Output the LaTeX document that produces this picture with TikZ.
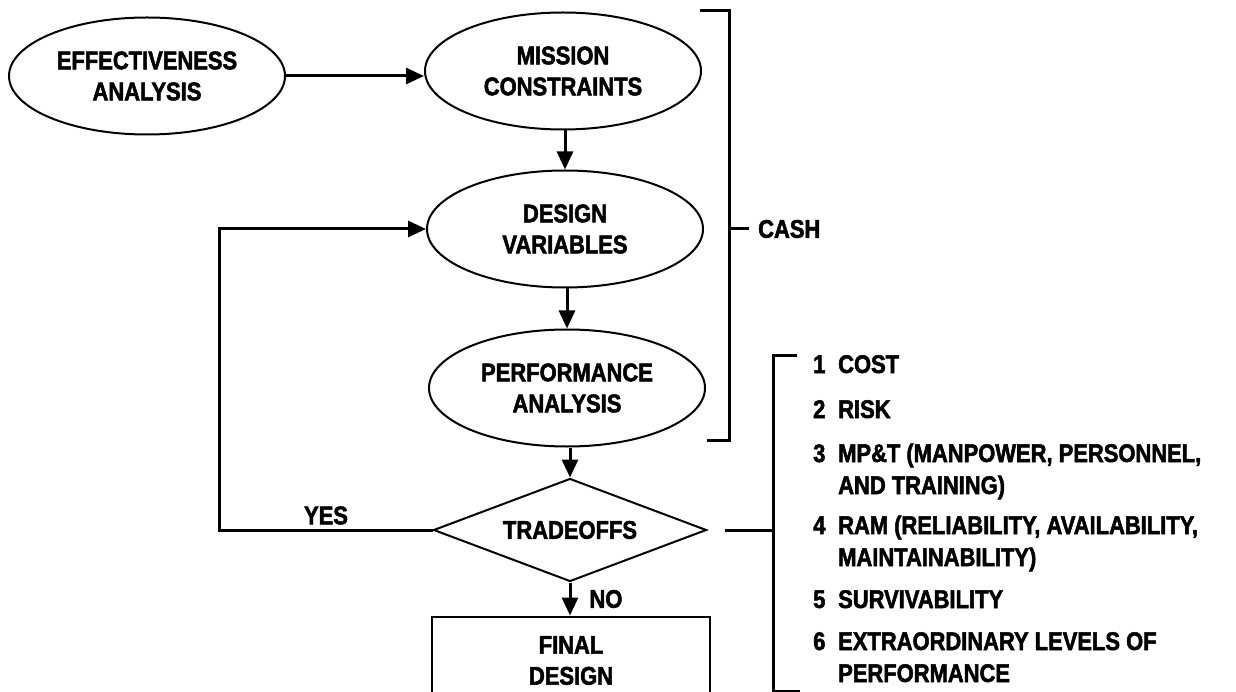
\documentclass[tikz,border=0pt]{standalone}
\usepackage{fontspec}
\newfontfamily\chartfont{Liberation Sans}[FakeStretch=0.86, BoldFeatures={FakeBold=2}]
\usetikzlibrary{shapes.geometric,arrows.meta,positioning}

\begin{document}
\begin{tikzpicture}[node distance=39pt, font=\chartfont\bfseries\fontsize{25.5}{31}\selectfont]
\tikzstyle{oval} = [ellipse, draw, line width=2pt, minimum width=276pt, minimum height=117pt, align=center, inner sep=0pt]
\tikzstyle{decision} = [diamond, draw, line width=2pt, minimum width=273pt, minimum height=103pt, aspect=2.65, inner sep=0pt]
\tikzstyle{finalbox} = [rectangle, draw, line width=2pt, minimum width=278pt, minimum height=88pt, align=center, inner sep=0pt]
\tikzstyle{flow} = [draw, line width=3pt, -{Triangle[length=18pt,width=16pt]}]
\tikzstyle{bracket} = [draw, line width=3pt]
\tikzstyle{tag} = [inner sep=0pt]
\tikzstyle{item} = [anchor=base west, inner sep=0pt]

% page of the same size as the reference
\clip (0,0) rectangle (1236pt,-692pt);

% Main flow of the study
\node [oval] (effectiveness) at (147pt,-76pt) {EFFECTIVENESS\\ANALYSIS};
\node [oval, right=138pt of effectiveness, yshift=5pt] (mission) {MISSION\\CONSTRAINTS};
\node [oval, below=of mission, xshift=2pt] (design) {DESIGN\\VARIABLES};
\node [oval, below=40pt of design, xshift=2pt] (performance) {PERFORMANCE\\ANALYSIS};
\node [decision, below=30pt of performance, xshift=3pt] (tradeoffs) {TRADEOFFS};
\node [finalbox, below=33pt of tradeoffs, xshift=1pt] (final) {FINAL\\DESIGN};

\draw [flow] (effectiveness.east) -- (effectiveness.east -| mission.west);
\draw [flow] (design.north |- mission.south) -- (design.north);
\draw [flow] (performance.north |- design.south) -- (performance.north);
\draw [flow] (tradeoffs.north |- performance.south) -- (tradeoffs.north);
\draw [flow] (tradeoffs.south) -- node[tag, right=18pt] {NO} (tradeoffs.south |- final.north);
\draw [flow] (tradeoffs.west) -- node[tag, above=4pt] {YES} ++(-213pt,0) |- (design.west);

% CASH bracket
\coordinate (cashtop) at (729pt,-11pt);
\coordinate (cashbottom) at (729pt,-440pt);
\draw [bracket] ([xshift=-29pt]cashtop) -- (cashtop) -- (cashbottom) -- ([xshift=-22pt]cashbottom);
\node [tag, anchor=west] (cash) at (758pt,-229pt) {CASH};
\draw [bracket] (cash.west -| cashtop) -- ++(20pt,0);

% list of tradeoffs
\coordinate (listtop) at (773pt,-355pt);
\coordinate (listbottom) at (773pt,-691pt);
\draw [bracket] ([xshift=24pt]listtop) -- (listtop) -- (listbottom) -- ([xshift=27pt]listbottom);
\draw [bracket] ([xshift=17pt]tradeoffs.east) -- (tradeoffs.east -| listtop);

\node [item] (num1) at (813pt,-373pt) {1};
\node [item] (cost) at (838pt,-373pt) {COST};
\node [item] (num2) at (813pt,-418pt) {2};
\node [item] (risk) at (838pt,-418pt) {RISK};
\node [item] (num3) at (813pt,-462pt) {3};
\node [item] (mpt) at (838pt,-462pt) {MP\&T (MANPOWER, PERSONNEL,};
\node [item] (mptb) at (838pt,-494pt) {AND TRAINING)};
\node [item] (num4) at (813pt,-534pt) {4};
\node [item] (ram) at (838pt,-534pt) {RAM (RELIABILITY, AVAILABILITY,};
\node [item] (ramb) at (838pt,-566pt) {MAINTAINABILITY)};
\node [item] (num5) at (813pt,-608pt) {5};
\node [item] (survivability) at (838pt,-608pt) {SURVIVABILITY};
\node [item] (num6) at (813pt,-650pt) {6};
\node [item] (levels) at (838pt,-650pt) {EXTRAORDINARY LEVELS OF};
\node [item] (levelsb) at (838pt,-682pt) {PERFORMANCE};

\end{tikzpicture}
\end{document}
